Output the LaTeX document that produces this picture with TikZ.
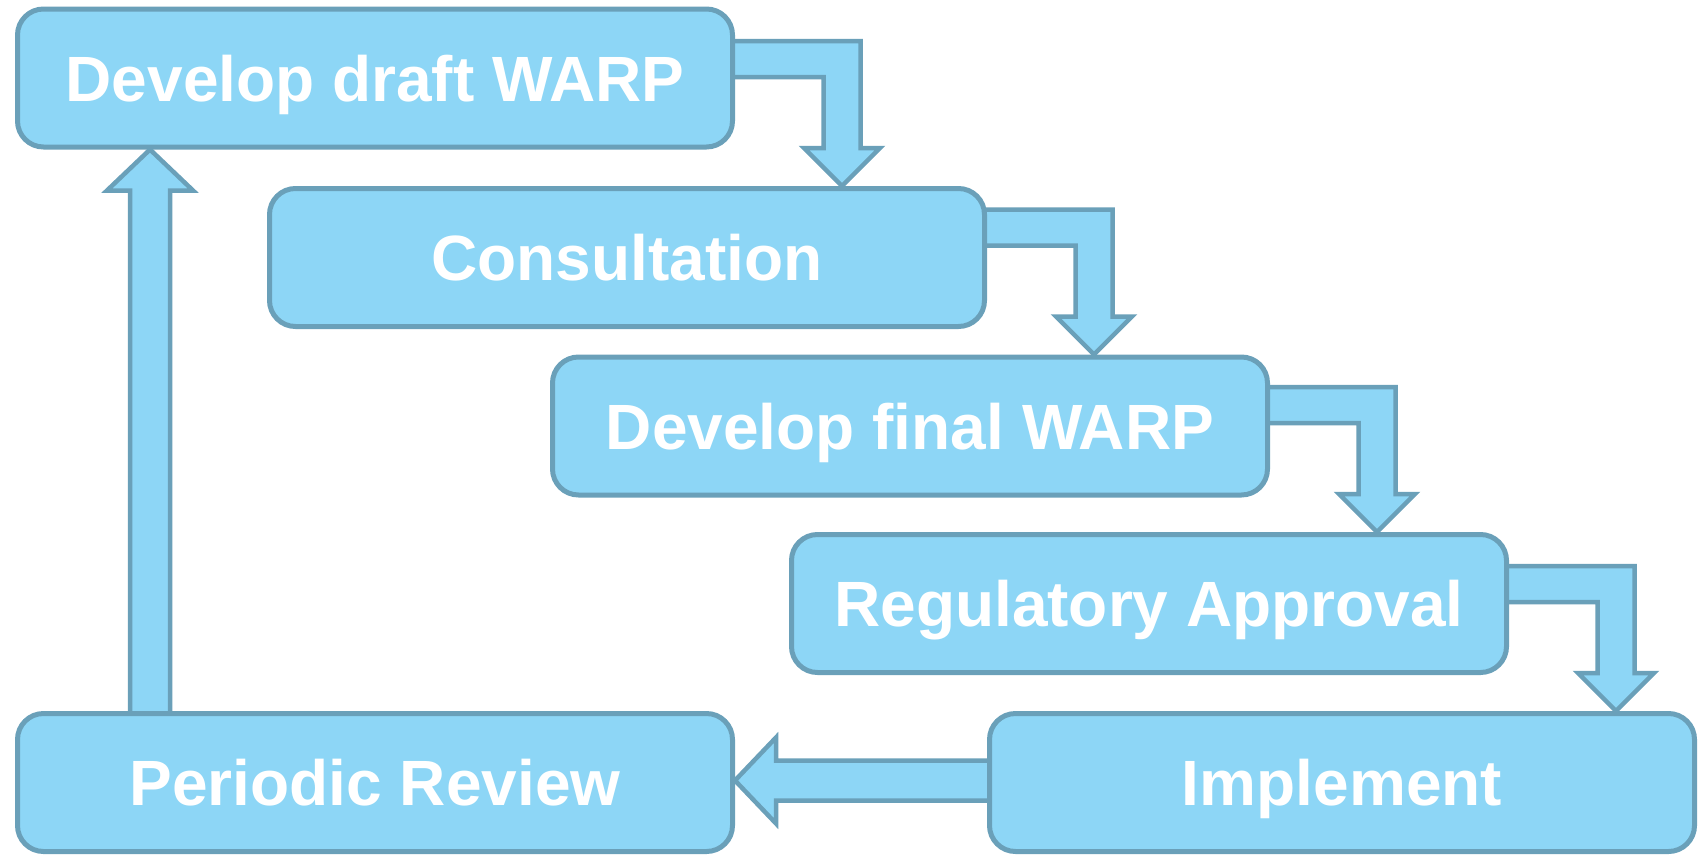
\documentclass[tikz,border=0pt]{standalone}
\usepackage{fontspec}
\setmainfont{Liberation Sans}
\usetikzlibrary{calc,backgrounds}
\definecolor{boxfill}{RGB}{141,214,246}
\definecolor{boxline}{RGB}{106,160,185}

% bent arrow from the right side of one box down onto the next box
\newcommand\bentarrow[2]{%
  \draw[flowarrow] let \p1=(#1.east), \p2=(#2.north) in
    (\x1-10pt,\y2+145pt) -- (\x1+125.5pt,\y2+145pt) -- (\x1+125.5pt,\y2+38pt)
    -- (\x1+145pt,\y2+38pt) -- (\x1+107pt,\y2) -- (\x1+69pt,\y2+38pt)
    -- (\x1+88.5pt,\y2+38pt) -- (\x1+88.5pt,\y2+109pt) -- (\x1-10pt,\y2+109pt) -- cycle;}

\begin{document}
\begin{tikzpicture}[x=1pt, y=-1pt,
  stepbox/.style={draw=boxline, fill=boxfill, line width=5pt, rounded corners=26pt,
    minimum width=715pt, minimum height=138pt, text=white, text depth=0pt,
    font=\fontsize{64pt}{70pt}\selectfont\bfseries},
  flowarrow/.style={draw=boxline, fill=boxfill, line width=4.5pt, line join=miter}]
\useasboundingbox (0,0) rectangle (1698,855);

\node[stepbox] (draft) at (375, 78) {Develop draft WARP};
\node[stepbox] (consult) at (627, 257.5) {Consultation};
\node[stepbox] (final) at (910, 426) {Develop final WARP};
\node[stepbox] (approval) at (1149, 603.5) {Regulatory Approval};
\node[stepbox] (review) at (375, 782.5) {Periodic Review};
\node[stepbox, minimum width=705pt] (implement) at (1342, 782.5) {Implement};

\begin{scope}[on background layer]
%arrows down the steps
\bentarrow{draft}{consult}
\bentarrow{consult}{final}
\bentarrow{final}{approval}
\bentarrow{approval}{implement}
%arrow back to the left
\draw[flowarrow] let \p1=(implement.west), \p2=(review.east) in
  (\x1+10pt,\y2+22pt) -- (\x2+41pt,\y2+22pt) -- (\x2+41pt,\y2+45pt) -- (\x2,\y2+2pt)
  -- (\x2+41pt,\y2-41pt) -- (\x2+41pt,\y2-18pt) -- (\x1+10pt,\y2-18pt) -- cycle;
%arrow up to the start
\draw[flowarrow] let \p1=(review.north west), \p2=(draft.south) in
  (\x1+115pt,\y1-10pt) -- (\x1+115pt,\y2-41pt) -- (\x1+92pt,\y2-41pt) -- (\x1+135pt,\y2)
  -- (\x1+178pt,\y2-41pt) -- (\x1+155pt,\y2-41pt) -- (\x1+155pt,\y1-10pt) -- cycle;
\end{scope}
\end{tikzpicture}
\end{document}
